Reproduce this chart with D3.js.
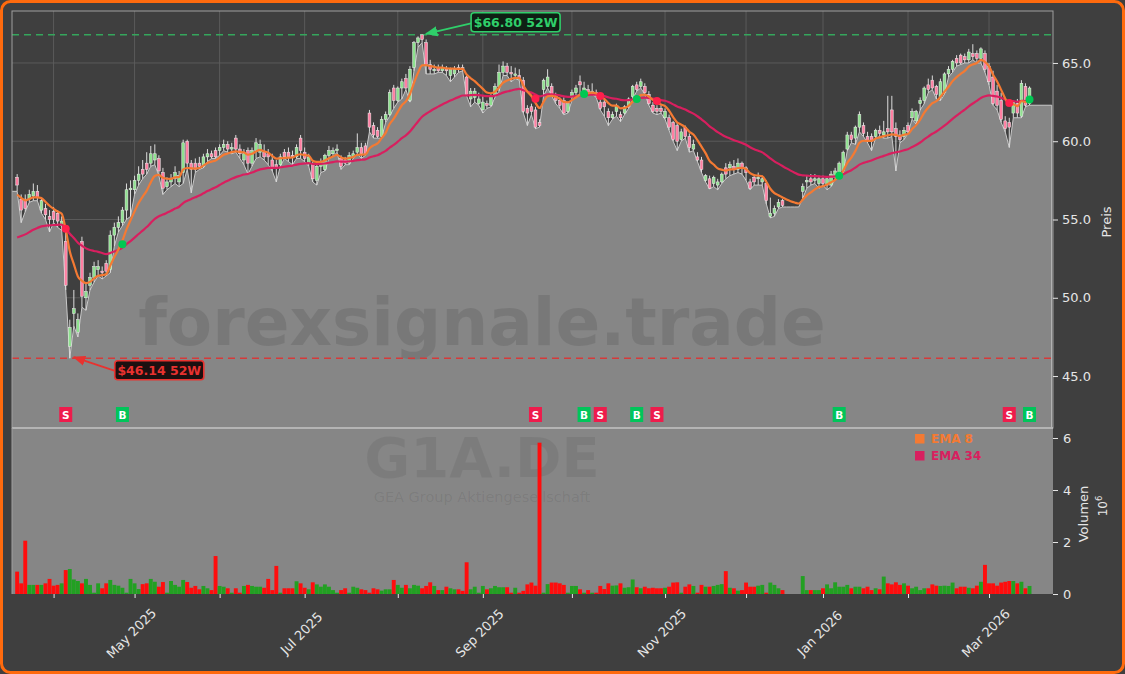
<!DOCTYPE html>
<html><head><meta charset="utf-8">
<script src="https://cdn.jsdelivr.net/npm/d3@7"></script>
<style>
html,body{margin:0;padding:0;background:#3f3f3f;overflow:hidden;}
svg{display:block;font-family:"DejaVu Sans",sans-serif;}
</style></head><body>
<svg id="c" width="1125" height="674"></svg>
<script>
// ---------- DATA (trading-day index 0 = 19 Mar 2025) ----------
const opens = [
57.7,56.3,56.3,56.3,56.5,56.8,55.6,55.7,55.2,55.5,
55.4,54.6,53.6,46.9,49.0,47.8,53.6,50.0,50.8,51.3,
51.8,51.7,52.2,51.8,54.0,54.5,54.8,55.6,56.9,56.9,
57.5,58.2,58.6,58.6,58.8,58.9,58.0,57.1,57.4,57.6,
57.4,58.0,60.0,58.6,58.6,58.6,58.4,59.0,59.2,59.4,
59.4,59.6,59.8,59.5,60.2,59.5,58.8,59.4,58.6,59.4,
59.3,59.3,59.2,58.8,58.5,58.5,59.3,59.3,59.1,59.0,
60.2,59.3,58.6,58.5,57.5,58.4,58.2,59.1,59.2,59.4,
58.9,58.8,58.6,59.0,59.3,59.6,59.7,61.8,61.0,60.7,
60.3,61.4,61.7,63.4,62.6,63.4,64.0,62.6,64.7,66.3,
66.8,66.3,64.9,64.5,64.7,64.5,64.6,64.2,64.3,64.7,
64.7,64.1,62.7,62.8,62.4,62.0,62.4,62.3,62.9,63.5,
64.4,64.8,64.4,64.2,64.2,63.9,62.1,62.2,62.0,61.2,
63.3,63.5,63.5,62.9,62.6,62.6,61.9,62.8,63.1,63.8,
63.2,63.3,63.1,63.1,62.5,62.5,61.9,61.5,61.9,61.7,
61.8,62.2,62.85,63.6,63.5,63.5,63.0,62.3,62.1,62.1,
61.5,61.5,61.2,61.0,60.1,60.9,60.3,59.5,59.0,58.8,
57.5,57.6,57.3,57.2,57.4,58.3,58.3,58.4,58.2,58.6,
58.3,57.4,57.7,57.6,57.4,57.3,55.2,55.4,55.8,56.2,
55.8,55.8,55.8,55.8,56.8,57.4,57.6,57.5,57.3,57.6,
57.2,57.2,57.7,57.8,58.1,59.5,60.4,60.2,60.9,61.0,
60.3,60.3,60.3,60.7,60.4,60.8,62.0,60.8,60.4,60.3,
61.0,61.5,61.3,62.4,62.6,63.6,63.9,63.5,62.8,63.1,
64.3,64.6,65.3,65.5,65.4,65.2,65.6,65.6,65.3,65.6,
64.8,64.1,63.2,62.6,61.3,61.2,61.8,62.4,61.6,63.5,
62.4];
const highs = [
57.9,56.6,56.6,56.9,57.3,57.2,56.4,56.0,55.6,55.8,
55.6,55.2,54.4,48.6,50.5,49.0,53.9,51.0,51.6,52.3,
52.4,52.0,52.4,54.3,54.8,55.2,55.8,57.3,57.5,57.8,
58.4,58.8,59.3,59.7,59.8,59.1,58.3,57.7,57.9,58.4,
58.1,60.1,60.1,58.8,58.9,59.0,59.2,59.5,59.4,59.6,
59.8,60.1,60.0,59.9,60.4,59.8,59.5,59.6,59.6,60.2,
60.1,59.8,59.5,59.2,58.8,59.2,59.5,59.6,59.4,59.8,
60.4,59.6,59.2,58.7,58.6,58.9,59.2,59.7,59.6,59.8,
59.1,59.0,59.3,59.4,60.5,59.9,59.9,62.0,61.2,60.9,
61.6,61.9,63.3,63.6,63.5,64.0,64.3,64.8,66.4,66.7,
66.8,66.5,65.2,64.9,64.9,64.9,64.8,64.7,64.8,64.9,
64.9,64.2,63.4,63.4,63.1,62.9,62.6,63.0,63.7,64.9,
65.1,65.0,64.8,64.7,64.6,64.1,62.3,62.4,62.2,61.4,
64.0,64.6,63.7,63.1,62.8,62.8,62.5,63.3,63.6,64.2,
63.8,63.6,63.7,63.3,62.7,62.7,62.1,61.9,62.4,61.9,
62.3,62.8,63.6,63.8,64.0,63.7,63.2,62.5,62.3,62.3,
62.1,61.7,61.3,61.2,60.8,61.0,60.5,60.1,59.3,59.0,
57.9,57.8,57.8,57.6,58.0,58.6,58.7,58.8,58.9,58.7,
58.4,57.6,57.8,58.0,57.8,57.5,56.4,55.9,56.3,56.3,
55.8,55.8,55.8,55.8,57.3,57.8,57.9,57.9,57.8,57.8,
57.7,58.1,58.3,58.7,59.4,60.6,60.6,61.0,61.9,61.2,
60.6,60.5,60.8,61.0,61.3,62.9,62.9,61.2,60.7,60.9,
61.2,62.1,62.0,62.8,63.5,64.0,64.2,63.6,64.0,64.4,
64.8,65.2,65.5,65.6,65.6,65.9,66.2,65.8,66.0,65.8,
65.0,64.5,63.6,63.1,61.6,61.5,62.6,62.7,63.9,63.7,
63.5];
const lows = [
56.8,54.8,55.5,56.1,56.2,56.2,55.4,55.0,54.2,54.8,
54.5,54.3,50.5,46.14,48.2,47.5,49.4,49.2,50.5,51.0,
51.4,51.2,51.4,51.6,53.3,54.2,54.6,55.0,55.2,56.6,
57.2,57.6,57.9,58.4,58.5,57.8,56.6,56.9,57.1,57.3,
57.1,57.3,58.2,56.7,58.0,58.2,58.3,58.7,58.9,58.9,
59.1,59.4,59.3,59.2,59.3,58.9,58.5,57.9,58.4,58.9,
59.0,58.8,58.5,58.1,57.4,58.4,58.9,58.7,58.5,58.9,
58.9,58.7,58.4,57.4,57.2,58.0,58.1,58.9,59.0,59.3,
58.2,58.5,58.5,58.9,59.2,58.9,59.1,60.6,60.2,60.2,
60.2,61.2,61.6,62.1,62.5,62.7,63.3,62.5,64.5,66.0,
66.3,64.3,64.3,64.3,64.4,64.4,64.2,63.8,64.1,64.4,
64.5,62.9,62.2,62.5,62.3,61.8,62.1,62.2,62.8,63.2,
64.2,64.2,63.8,64.0,63.9,61.8,61.0,61.7,60.8,60.9,
62.9,63.4,62.9,62.4,62.1,61.7,61.8,62.6,62.9,63.0,
63.1,63.0,63.0,62.8,62.0,61.6,61.0,61.4,61.6,61.25,
61.7,62.1,62.7,63.2,63.4,63.0,62.3,61.8,61.7,61.8,
61.4,60.7,60.0,59.4,60.0,60.2,59.3,59.4,58.7,58.0,
57.4,56.95,57.1,56.9,57.3,57.6,57.8,57.9,58.0,57.9,
57.5,56.9,57.2,57.2,57.2,56.0,55.1,55.2,55.7,55.8,
55.8,55.8,55.8,55.8,56.35,57.0,57.2,57.3,57.0,57.2,
56.9,57.1,57.6,57.7,58.0,59.4,59.9,59.8,60.6,60.3,
59.9,59.4,60.2,60.3,60.2,60.2,60.3,58.1,59.9,60.1,
60.5,61.4,61.1,62.0,62.4,63.1,63.3,62.7,62.6,63.0,
64.1,64.4,64.8,64.9,65.0,65.0,65.2,65.0,65.0,64.4,
63.6,62.3,62.0,61.2,60.6,59.6,61.5,61.5,61.5,62.2,
62.3];
const closes = [
57.2,55.6,55.7,56.6,56.8,56.4,56.2,55.3,55.0,55.0,
54.9,54.9,50.8,48.1,49.3,48.6,50.1,50.4,51.3,52.0,
52.0,51.6,51.7,54.0,54.5,54.8,55.6,56.9,57.0,57.5,
57.9,57.9,58.2,59.2,59.2,58.1,57.0,57.4,57.6,58.0,
57.8,59.9,58.6,58.2,58.2,58.4,59.0,59.2,59.0,59.0,
59.6,59.8,59.5,59.6,59.5,59.2,59.2,58.6,59.4,59.9,
59.8,59.0,59.0,58.3,58.3,59.0,59.0,59.0,59.0,59.6,
59.4,58.9,59.0,57.6,58.4,58.7,59.1,59.4,59.4,59.5,
58.4,58.6,59.1,59.2,59.6,59.2,59.2,60.9,60.4,60.3,
61.4,61.7,63.1,62.6,63.4,63.8,63.4,64.6,66.3,66.6,
66.5,64.9,64.6,64.6,64.5,64.7,64.5,64.6,64.6,64.6,
64.6,63.0,63.2,63.2,62.7,62.5,62.3,62.9,63.5,64.4,
64.8,64.4,64.3,64.3,64.0,61.9,61.8,61.9,60.9,61.0,
63.9,64.1,63.0,62.6,62.3,61.8,62.4,63.1,63.4,63.6,
63.4,63.1,63.2,62.9,62.1,62.2,61.5,61.7,62.3,61.5,
62.2,62.7,63.5,63.3,63.8,63.1,62.4,61.9,61.9,61.9,
61.9,60.9,60.1,60.0,60.6,60.3,59.6,59.8,58.8,58.2,
57.8,57.0,57.7,57.4,57.9,57.9,58.5,58.2,58.6,58.3,
58.0,57.0,57.4,57.7,57.6,56.2,55.4,55.7,56.1,55.9,
55.8,55.8,55.8,55.8,57.1,57.5,57.4,57.6,57.6,57.3,
57.6,57.9,58.1,58.6,59.3,60.4,60.1,60.9,61.7,60.5,
60.0,60.0,60.7,60.5,60.6,60.6,60.6,60.3,60.1,60.7,
60.6,61.9,61.9,62.6,63.4,63.3,63.4,63.0,63.8,64.3,
64.6,65.1,65.0,65.0,65.2,65.7,65.4,65.3,65.9,64.6,
63.8,62.4,62.3,61.4,60.8,60.9,62.5,61.8,63.7,62.3,
63.4];
// volume in millions
const volumes = [
.86,.41,2.05,.35,.35,.35,.35,.41,.58,.32,
.35,.41,.92,.96,.56,.5,.41,.58,.35,.05,
.41,.22,.41,.54,.35,.32,.24,.05,.58,.41,
.19,.38,.41,.58,.47,.28,.46,.05,.5,.35,
.28,.54,.46,.24,.31,.18,.31,.22,.15,1.46,
.31,.28,.22,.05,.22,.05,.31,.35,.31,.28,
.28,.24,.58,.15,1.08,.05,.22,.22,.22,.49,
.41,.24,.18,.45,.37,.28,.37,.28,.15,.05,
.15,.22,.05,.28,.24,.18,.15,.05,.22,.18,
.13,.18,.18,.54,.35,.24,.35,.22,.35,.32,
.22,.31,.45,.31,.15,.15,.28,.22,.18,.18,
.12,1.22,.18,.28,.05,.31,.18,.22,.31,.26,
.26,.26,.05,.24,.05,.12,.37,.44,.32,5.82,
.05,.38,.44,.44,.41,.35,.05,.31,.31,.18,
.05,.15,.05,.05,.31,.19,.41,.32,.33,.41,
.24,.26,.56,.26,.22,.28,.22,.24,.22,.22,
.24,.28,.44,.45,.05,.28,.37,.31,.05,.35,
.28,.28,.31,.35,.38,.88,.24,.22,.13,.15,
.44,.28,.28,.32,.35,.05,.44,.35,.22,.15,
0,0,0,0,.69,.15,.15,.15,.15,.22,
.37,.22,.45,.28,.28,.35,.22,.28,.28,.22,
.28,.15,.22,.18,.67,.41,.37,.45,.35,.41,
.32,.22,.28,.15,.22,.22,.37,.32,.31,.32,
.31,.44,.22,.28,.28,.24,.22,.32,.47,1.12,
.41,.41,.32,.44,.47,.5,.5,.41,.47,.22,
.31];
const monthTickIdx = [9,29,50,71,94,115,137,160,180,199,220,240];
const monthTickLabels = ["","May 2025","","Jul 2025","","Sep 2025","","Nov 2025","","Jan 2026","","Mar 2026"];
const priceTicks = [45,50,55,60,65];
const volumeTicks = [0,2,4,6];
const signalIdx  = [12,26,128,140,144,153,158,203,245,250];
const signalType = ["S","B","S","B","S","B","S","B","S","B"];
const ema8Start = 56.6, ema34Start = 53.85;
const high52Label = "$66.80 52W", low52Label = "$46.14 52W";

// ---------- LAYOUT ----------
const W=1125,H=674, L=12, R=1053, PT=11, PB=428, VT=428, VB=594;
const svg = d3.select("#c");
const n = closes.length;
const x = d3.scaleLinear().domain([-1.27, 255.8]).range([L,R]);
const y = d3.scaleLinear().domain([41.68, 68.32]).range([PB,PT]);
const yv = d3.scaleLinear().domain([0, 6.385]).range([VB,VT]);

function ema(vals, start, period){
  const k = 2/(period+1), out=[start];
  for(let i=1;i<vals.length;i++) out.push(out[i-1] + k*(vals[i]-out[i-1]));
  return out;
}
const ema8 = ema(closes, ema8Start, 8);
const ema34 = ema(closes, ema34Start, 34);

const defs = svg.append("defs");
defs.append("clipPath").attr("id","cp").append("rect").attr("x",L).attr("y",PT).attr("width",R-L).attr("height",PB-PT);
defs.append("clipPath").attr("id","cv").append("rect").attr("x",L).attr("y",VT).attr("width",R-L).attr("height",VB-VT);
[["ah-g","#2fcf6a"],["ah-r","#e8322f"]].forEach(([id,c])=>{
  defs.append("marker").attr("id",id).attr("viewBox","0 0 10 10").attr("refX",9).attr("refY",5)
    .attr("markerWidth",7).attr("markerHeight",7).attr("orient","auto")
    .append("path").attr("d","M0,1 L10,5 L0,9 z").attr("fill",c);
});

// background + border
svg.append("rect").attr("x",0).attr("y",0).attr("width",W).attr("height",H).attr("fill","#3f3f3f");
svg.append("rect").attr("x",1.5).attr("y",1.5).attr("width",W-3).attr("height",H-3).attr("rx",9)
  .attr("fill","none").attr("stroke","#ff6a0d").attr("stroke-width",3);

// ---------- PRICE PANEL ----------
const gp = svg.append("g");
gp.append("rect").attr("x",L).attr("y",PT).attr("width",R-L).attr("height",PB-PT).attr("fill","#3f3f3f");
const grid = gp.append("g").attr("stroke","#5d5d5d").attr("stroke-width",0.9);
monthTickIdx.forEach(t=>grid.append("line").attr("x1",x(t)).attr("x2",x(t)).attr("y1",PT).attr("y2",PB));
priceTicks.forEach(t=>grid.append("line").attr("x1",L).attr("x2",R).attr("y1",y(t)).attr("y2",y(t)));

const plot = gp.append("g").attr("clip-path","url(#cp)");
const areaPts = [{i:-1.27,v:lows[0]}].concat(lows.map((v,i)=>({i,v}))).concat([{i:255.5,v:lows[n-1]}]);
plot.append("path").datum(areaPts)
  .attr("d", d3.area().x(d=>x(d.i)).y0(PB+2).y1(d=>y(d.v)))
  .attr("fill","#868686");
plot.append("path").datum(areaPts)
  .attr("d", d3.line().x(d=>x(d.i)).y(d=>y(d.v)))
  .attr("fill","none").attr("stroke","#c9c9c9").attr("stroke-width",1);
plot.append("line").attr("x1",x(255.5)).attr("x2",x(255.5)).attr("y1",y(lows[n-1])).attr("y2",PB)
  .attr("stroke","#c9c9c9").attr("stroke-width",1);

// watermark
plot.append("text").attr("x",482).attr("y",345).attr("text-anchor","middle")
  .attr("font-size",66).attr("font-weight","bold").attr("fill","#000").attr("fill-opacity",0.1)
  .text("forexsignale.trade");

// 52W lines
const hiIdx = d3.maxIndex(highs), loIdx = d3.minIndex(lows);
const hiV = highs[hiIdx], loV = lows[loIdx];
plot.append("line").attr("x1",L).attr("x2",R).attr("y1",y(hiV)).attr("y2",y(hiV))
  .attr("stroke","#35a65c").attr("stroke-width",1.6).attr("stroke-dasharray","7,5");
plot.append("line").attr("x1",L).attr("x2",R).attr("y1",y(loV)).attr("y2",y(loV))
  .attr("stroke","#d63a3a").attr("stroke-width",1.6).attr("stroke-dasharray","7,5");

// candles
const bw = 2.8;
const cg = plot.append("g");
d3.range(n).forEach(i=>{
  const o=opens[i],h=highs[i],l=lows[i],c=closes[i];
  if(o===h && h===l && l===c) return;
  const up = c>=o;
  cg.append("line").attr("x1",x(i)).attr("x2",x(i)).attr("y1",y(h)).attr("y2",y(l))
    .attr("stroke","#dcdcdc").attr("stroke-width",1);
  const top=y(Math.max(o,c)), bot=y(Math.min(o,c));
  cg.append("rect").attr("x",x(i)-bw/2).attr("y",top).attr("width",bw).attr("height",Math.max(bot-top,0.8))
    .attr("fill", up?"#8fe28f":"#ff7fa2").attr("stroke","#eeeeee").attr("stroke-width",0.5);
});

// EMAs
const lineGen = d3.line().x((d,i)=>x(i)).y(d=>y(d)).curve(d3.curveMonotoneX);
plot.append("path").datum(ema34).attr("d",lineGen).attr("fill","none").attr("stroke","#d81f5f").attr("stroke-width",2.2);
plot.append("path").datum(ema8).attr("d",lineGen).attr("fill","none").attr("stroke","#f47a33").attr("stroke-width",2.2);

// crossover dots
signalIdx.forEach((s,k)=>{
  plot.append("circle").attr("cx",x(s)).attr("cy",y((ema8[s]+ema34[s])/2)).attr("r",4)
    .attr("fill", signalType[k]==="S"?"#ff1f4b":"#00c853");
});
// S/B markers
signalIdx.forEach((s,k)=>{
  const isS = signalType[k]==="S";
  plot.append("rect").attr("x",x(s)-6.5).attr("y",407).attr("width",13).attr("height",15)
    .attr("fill", isS?"#ee1c4c":"#00c55a");
  plot.append("text").attr("x",x(s)).attr("y",418.5).attr("text-anchor","middle")
    .attr("font-size",10.5).attr("font-weight","bold").attr("fill","#ffffff").text(signalType[k]);
});

// 52W labels
function label52(idx,val,txt,dx,dy,col,bg,mk){
  const px=x(idx), py=y(val);
  const bx=px+dx, by=py+dy, bwid=89, bh=19;
  gp.append("line").attr("x1",bx+1).attr("y1",by+bh*0.55).attr("x2",px+4).attr("y2",py-1)
    .attr("stroke",col).attr("stroke-width",1.8).attr("marker-end","url(#"+mk+")");
  gp.append("rect").attr("x",bx).attr("y",by).attr("width",bwid).attr("height",bh).attr("rx",3)
    .attr("fill",bg).attr("stroke",col).attr("stroke-width",1.6);
  gp.append("text").attr("x",bx+bwid/2).attr("y",by+14).attr("text-anchor","middle")
    .attr("font-size",12.5).attr("font-weight","bold").attr("fill",col).text(txt);
}
label52(hiIdx,hiV,high52Label,49,-22,"#2fcf6a","#0f1f14","ah-g");
label52(loIdx,loV,low52Label,45,2.5,"#e8322f","#1c1010","ah-r");

gp.append("rect").attr("x",L).attr("y",PT).attr("width",R-L).attr("height",PB-PT)
  .attr("fill","none").attr("stroke","#a0a0a0").attr("stroke-width",1);

// ---------- VOLUME PANEL ----------
const gv = svg.append("g");
gv.append("rect").attr("x",L).attr("y",VT).attr("width",R-L).attr("height",VB-VT).attr("fill","#868686");
gv.append("text").attr("x",482).attr("y",477).attr("text-anchor","middle").attr("font-size",56)
  .attr("font-weight","bold").attr("fill","#000").attr("fill-opacity",0.07).text("G1A.DE");
gv.append("text").attr("x",482).attr("y",502).attr("text-anchor","middle").attr("font-size",14.5)
  .attr("fill","#000").attr("fill-opacity",0.08).text("GEA Group Aktiengesellschaft");
const vbars = gv.append("g").attr("clip-path","url(#cv)");
volumes.forEach((v,i)=>{
  if(!v) return;
  vbars.append("rect").attr("x",x(i)-1.95).attr("y",yv(v)).attr("width",3.9).attr("height",VB-yv(v))
    .attr("fill", closes[i]>=opens[i] ? "#22a022" : "#ff0d0d");
});
// legend
[["EMA 8","#f47a33",434],["EMA 34","#d81f5f",451]].forEach(([t,c,yy])=>{
  gv.append("rect").attr("x",915).attr("y",yy).attr("width",9.5).attr("height",9.5).attr("fill",c);
  gv.append("text").attr("x",931).attr("y",yy+9).attr("font-size",12).attr("font-weight","bold").attr("fill",c).text(t);
});
gv.append("line").attr("x1",L).attr("x2",R).attr("y1",VT).attr("y2",VT).attr("stroke","#b4b4b4").attr("stroke-width",2);
gv.append("line").attr("x1",L).attr("x2",L).attr("y1",VT).attr("y2",VB).attr("stroke","#a0a0a0").attr("stroke-width",1);

// ---------- AXES ----------
function styleAxis(g){
  g.select(".domain").remove();
  g.selectAll("line").attr("stroke","#e6e6e6");
  g.selectAll("text").attr("fill","#e6e6e6").attr("font-size",13).attr("font-family","DejaVu Sans, sans-serif");
}
svg.append("g").attr("transform",`translate(${R},0)`)
  .call(d3.axisRight(y).tickValues(priceTicks).tickFormat(d3.format(".1f")).tickSize(5).tickPadding(4))
  .call(styleAxis);
svg.append("g").attr("transform",`translate(${R},0)`)
  .call(d3.axisRight(yv).tickValues(volumeTicks).tickFormat(d3.format("d")).tickSize(5).tickPadding(5))
  .call(styleAxis);
const xa = svg.append("g").attr("transform",`translate(0,${VB})`)
  .call(d3.axisBottom(x).tickValues(monthTickIdx).tickFormat((d,i)=>monthTickLabels[i]).tickSize(4))
  .call(styleAxis);
xa.selectAll("text").attr("y",0).attr("dy",null).attr("dominant-baseline","middle")
  .attr("text-anchor","middle").attr("transform","translate(-3,40) rotate(-45)");

svg.append("text").attr("transform","translate(1111,222) rotate(-90)").attr("text-anchor","middle")
  .attr("font-size",13).attr("fill","#e6e6e6").text("Preis");
svg.append("text").attr("transform","translate(1088,514) rotate(-90)").attr("text-anchor","middle")
  .attr("font-size",13).attr("fill","#e6e6e6").text("Volumen");
const off = svg.append("text").attr("transform","translate(1107,506) rotate(-90)").attr("text-anchor","middle")
  .attr("font-size",12).attr("fill","#e6e6e6");
off.append("tspan").text("10");
off.append("tspan").attr("dy",-5).attr("font-size",8.5).text("6");
</script>
</body></html>
